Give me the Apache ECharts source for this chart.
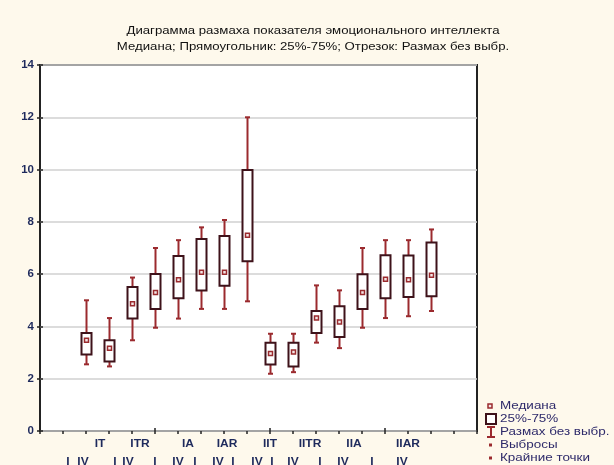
<!DOCTYPE html>
<html>
<head>
<meta charset="utf-8">
<script src="https://cdn.jsdelivr.net/npm/echarts@6/dist/echarts.min.js"></script>
<style>
html,body{margin:0;padding:0;background:#fef9ec;}
#chart{width:614px;height:465px;}
</style>
</head>
<body>
<div id="chart"></div>
<script>
// ---- data ----
const categories = ['IT I','IT IV','ITR I','ITR IV','IA I','IA IV','IAR I','IAR IV',
                    'IIT I','IIT IV','IITR I','IITR IV','IIA I','IIA IV','IIAR I','IIAR IV'];
const whiskerLow  = [2.55,2.47,3.47,3.95,4.30,4.67,4.67,4.96,2.19,2.25,3.38,3.17,3.95,4.32,4.39,4.59];
const q1          = [2.93,2.66,4.30,4.67,5.08,5.37,5.56,6.49,2.54,2.47,3.75,3.60,4.67,5.08,5.13,5.15];
const median      = [3.47,3.17,4.87,5.30,5.79,6.07,6.07,7.49,2.96,3.02,4.32,4.17,5.30,5.80,5.79,5.96];
const q3          = [3.75,3.47,5.51,6.01,6.69,7.34,7.46,9.98,3.38,3.38,4.59,4.77,6.00,6.72,6.71,7.21];
const whiskerHigh = [5.00,4.32,5.87,7.00,7.30,7.79,8.07,12.00,3.72,3.72,5.57,5.38,7.00,7.30,7.30,7.71];
const yTicks = [0,2,4,6,8,10,12,14];
const groupLabels = ['IT','ITR','IA','IAR','IIT','IITR','IIA','IIAR'];
const subLabels = ['I','IV','I','IV','I','IV','I','IV','I','IV','I','IV','I','IV','I','IV'];
const titleLines = ['Диаграмма размаха показателя эмоционального интеллекта',
                    'Медиана; Прямоугольник: 25%-75%; Отрезок: Размах без выбр.'];
const legendLabels = ['Медиана','25%-75%','Размах без выбр.','Выбросы','Крайние точки'];

// ---- layout (pixels) ----
const groupLabelX = [100,140,188,227,270,310,354,408];
const subLabelX = [68,83,115,128,155,178,195,218,233,257,272,293,320,343,372,402];

const boxData = categories.map((c,i)=>[i+2, whiskerLow[i], q1[i], median[i], q3[i], whiskerHigh[i]]);

const WHISK = '#9b2a2e';
const BOXC = '#3e121a';
const TXT = '#1e2a5c';
const FF = '"Liberation Sans", Arial, sans-serif';

function renderItem(params, api){
  const x = api.value(0);
  const pt = v => api.coord([x, v]);
  const wl = pt(api.value(1)), b1 = pt(api.value(2)), md = pt(api.value(3)), b3 = pt(api.value(4)), wh = pt(api.value(5));
  const cx = Math.round(wl[0]) + 0.5;
  const hw = 5, cap = 2.5;
  const lineStyle = {stroke: WHISK, lineWidth: 2};
  return {
    type: 'group',
    children: [
      {type:'line', shape:{x1:cx,y1:wh[1],x2:cx,y2:b3[1]}, style:lineStyle},
      {type:'line', shape:{x1:cx,y1:b1[1],x2:cx,y2:wl[1]}, style:lineStyle},
      {type:'line', shape:{x1:cx-cap,y1:wh[1],x2:cx+cap,y2:wh[1]}, style:lineStyle},
      {type:'line', shape:{x1:cx-cap,y1:wl[1],x2:cx+cap,y2:wl[1]}, style:lineStyle},
      {type:'rect', shape:{x:cx-hw,y:b3[1],width:hw*2,height:b1[1]-b3[1]},
        style:{fill:'#ffffff', stroke:BOXC, lineWidth:2}},
      {type:'rect', shape:{x:cx-2,y:md[1]-2,width:4,height:4},
        style:{fill:'#f4e6e6', stroke:WHISK, lineWidth:1.5}}
    ]
  };
}

const graphics = [];
titleLines.forEach((t,i)=>{
  graphics.push({type:'text', x:313, y:31+i*16, scaleX:1.2,
    style:{text:t, fill:'#111', font:'11px '+FF, textAlign:'center', textVerticalAlign:'middle'}});
});
groupLabels.forEach((t,i)=>{
  graphics.push({type:'text', x:groupLabelX[i], y:444, scaleX:1.2,
    style:{text:t, fill:TXT, font:'bold 10px '+FF, textAlign:'center', textVerticalAlign:'middle'}});
});
subLabels.forEach((t,i)=>{
  graphics.push({type:'text', x:subLabelX[i], y:462, scaleX:1.2,
    style:{text:t, fill:TXT, font:'bold 10px '+FF, textAlign:'center', textVerticalAlign:'middle'}});
});
// legend
const legY = [406,419,432,445,458];
legendLabels.forEach((t,i)=>{
  graphics.push({type:'text', x:500, y:legY[i], scaleX:1.28,
    style:{text:t, fill:'#2e2a6a', font:'10.5px '+FF, textVerticalAlign:'middle'}});
});
graphics.push({type:'rect', shape:{x:488,y:legY[0]-2,width:4,height:4}, style:{fill:'#f4e6e6', stroke:WHISK, lineWidth:1.5}});
graphics.push({type:'rect', shape:{x:486,y:legY[1]-5,width:10,height:10}, style:{fill:'#fff', stroke:BOXC, lineWidth:2}});
graphics.push({type:'line', shape:{x1:491,y1:legY[2]-5,x2:491,y2:legY[2]+5}, style:{stroke:WHISK, lineWidth:2}});
graphics.push({type:'line', shape:{x1:487,y1:legY[2]-5,x2:495,y2:legY[2]-5}, style:{stroke:WHISK, lineWidth:2}});
graphics.push({type:'line', shape:{x1:487,y1:legY[2]+5,x2:495,y2:legY[2]+5}, style:{stroke:WHISK, lineWidth:2}});
graphics.push({type:'rect', shape:{x:489,y:legY[3]-1.5,width:3,height:3}, style:{fill:WHISK}});
graphics.push({type:'rect', shape:{x:489,y:legY[4]-1.5,width:3,height:3}, style:{fill:WHISK}});

const chart = echarts.init(document.getElementById('chart'), null, {renderer:'canvas'});
chart.setOption({
  backgroundColor: '#fef9ec',
  animation: false,
  grid: {left:40, right:137, top:65, bottom:34, show:true, backgroundColor:'#ffffff', borderColor:'#222', borderWidth:2},
  xAxis: [
    {type:'value', min:0, max:categories.length+3, interval:5, position:'bottom',
      axisLine:{show:false}, axisLabel:{show:false}, splitLine:{show:false},
      axisTick:{show:true, inside:true, length:3, lineStyle:{color:'#222', width:1.5}}},
    {type:'value', min:0, max:categories.length+3, interval:1, position:'top',
      axisLine:{show:false}, axisLabel:{show:false}, splitLine:{show:false},
      axisTick:{show:true, inside:true, length:3, lineStyle:{color:'#222', width:1.5}}}
  ],
  yAxis: [
    {type:'value', min:yTicks[0], max:yTicks[yTicks.length-1], interval:2, position:'left',
      axisLine:{show:false},
      axisTick:{show:true, inside:true, length:3, lineStyle:{color:'#222', width:1.5}},
      axisLabel:{color:TXT, fontSize:11.5, fontWeight:'bold', fontFamily:FF, margin:6},
      splitLine:{show:true, lineStyle:{color:'#d0d0d0', width:1.5}}},
    {type:'value', min:yTicks[0], max:yTicks[yTicks.length-1], interval:2, position:'right',
      axisLine:{show:false}, axisLabel:{show:false}, splitLine:{show:false},
      axisTick:{show:true, inside:true, length:3, lineStyle:{color:'#222', width:1.5}}}
  ],
  series: [{
    type:'custom', xAxisIndex:0, yAxisIndex:0, renderItem: renderItem,
    encode:{x:0, y:[1,2,3,4,5]}, data: boxData, clip:false
  }],
  graphic: graphics
});
</script>
</body>
</html>
